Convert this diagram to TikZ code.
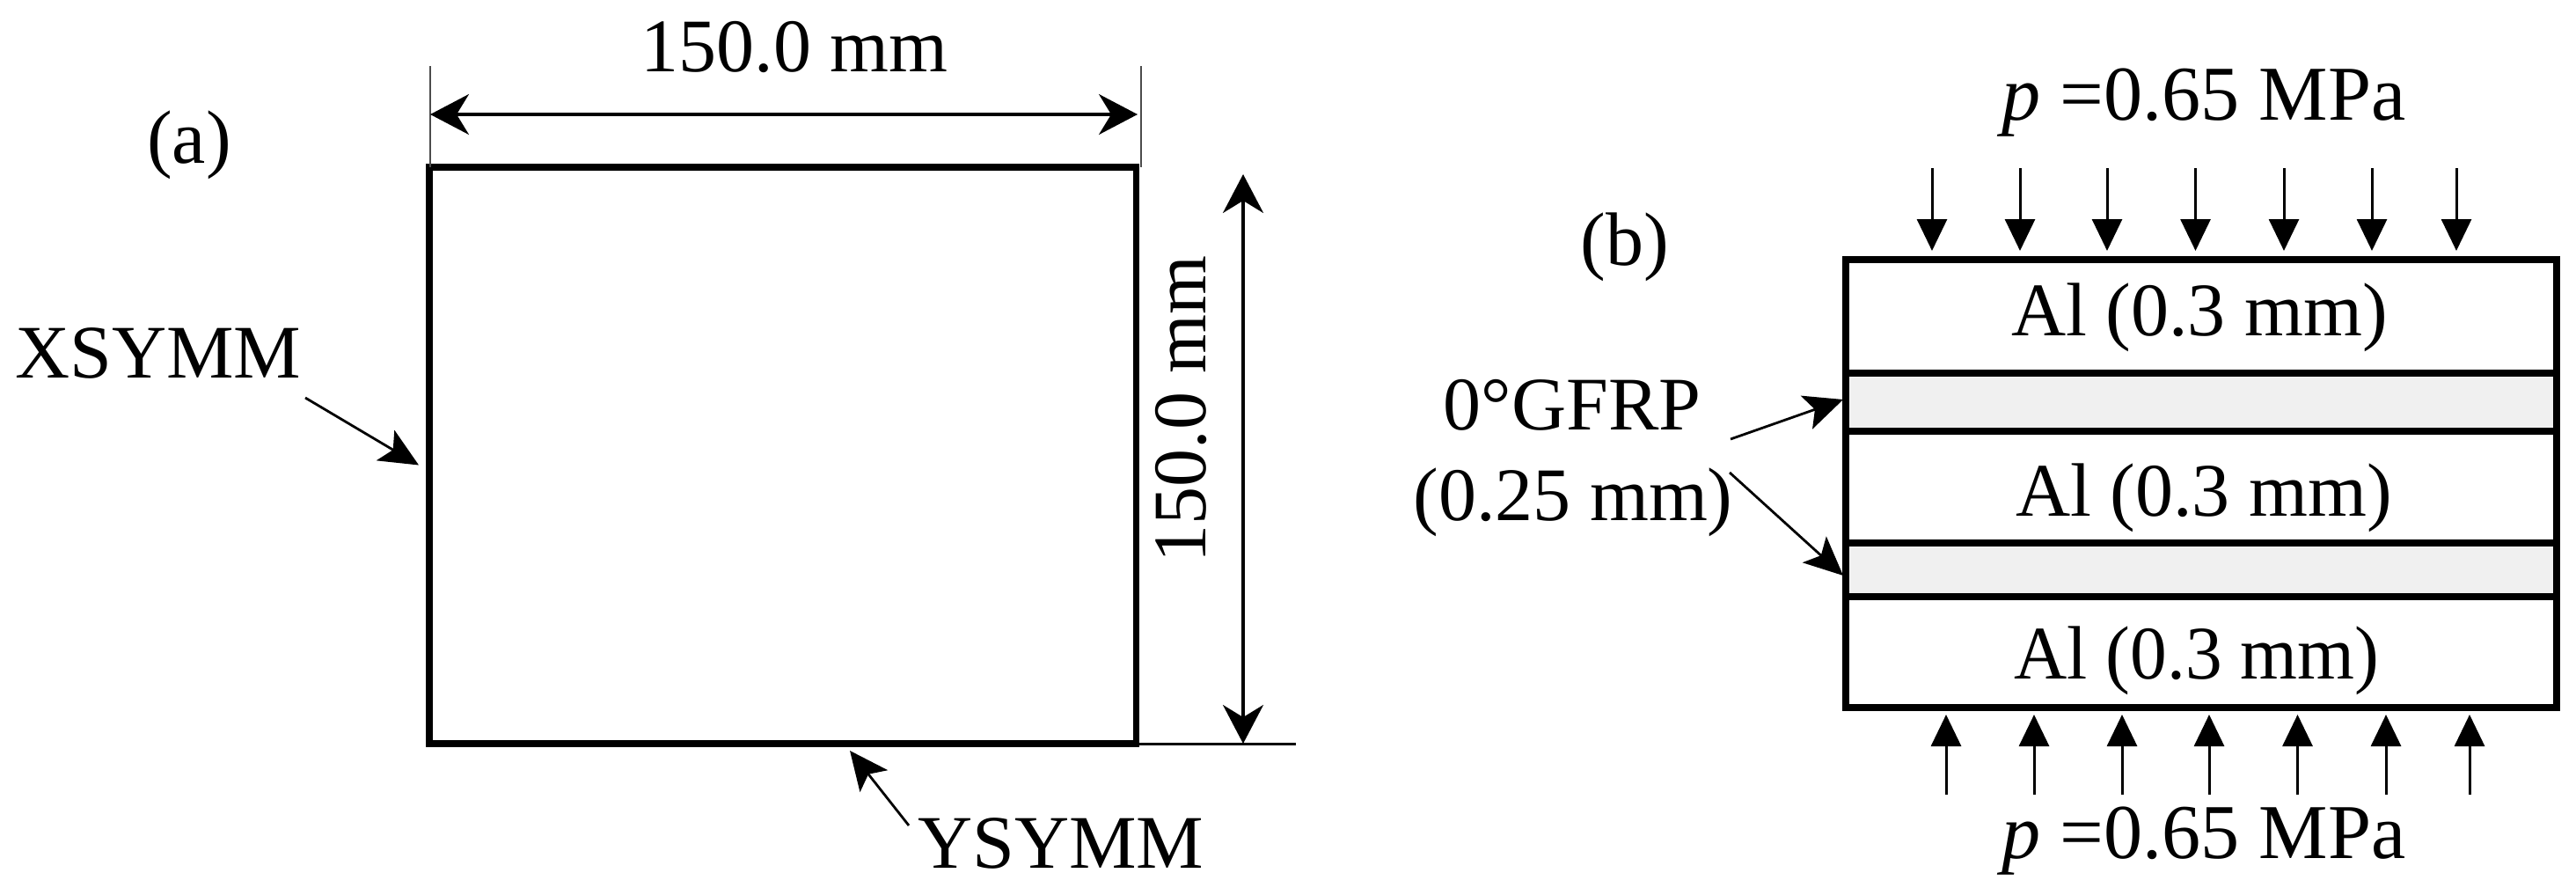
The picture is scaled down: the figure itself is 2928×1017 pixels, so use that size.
\documentclass[tikz,border=0pt]{standalone}
\usepackage{fontspec}
\setmainfont{Liberation Serif}
\usetikzlibrary{arrows.meta}
\tikzset{
  txt/.style={anchor=base,inner sep=0pt,outer sep=0pt,font=\fontsize{43}{50}\selectfont},
  bigtxt/.style={txt,font=\fontsize{44.1}{50}\selectfont},
  panel/.style={draw=black,line width=3.7pt,fill=white,minimum width=401.75pt,minimum height=327.5pt,inner sep=0pt,outer sep=0pt,anchor=north west},
  alayer/.style={draw=black,line width=4pt,fill=white,inner sep=0pt,outer sep=0pt,minimum width=404.25pt,anchor=north west},
  glayer/.style={draw=black,line width=4pt,fill=gfrp,inner sep=0pt,outer sep=0pt,minimum width=404.25pt,anchor=north west},
  thin rule/.style={draw=black!70,line width=1.1pt},
  dimarrow/.style={draw=black,line width=1.6pt,{Stealth[length=22pt,width=23pt,inset=7pt]}-{Stealth[length=22pt,width=23pt,inset=7pt]}},
  callout/.style={draw=black,line width=1.4pt,-{Stealth[length=22pt,width=20pt,inset=5pt]}},
  load/.style={draw=black,line width=1.5pt,-{Triangle[length=18pt,width=17pt]}}
}
\definecolor{gfrp}{HTML}{F0F0F0}
\begin{document}
\begin{tikzpicture}[x=0.5pt,y=-0.5pt]
\useasboundingbox (0,0) rectangle (2928,1017);
\fill[white] (0,0) rectangle (2928,1017);
% (a)
\node[panel] (plate) at (488,190) {};
\node[txt] (la) at (215,185) {(a)};
\node[txt] (wlab) at (903,81) {150.0 mm};
\node[txt,rotate=90] (hlab) at (1370,465) {150.0 mm};
\node[txt] (xs) at (180,429) {XSYMM};
\node[txt] (ys) at (1206,986) {YSYMM};
\coordinate (e1a) at (489,75); \coordinate (e1b) at (489,190);
\coordinate (e2a) at (1297,75); \coordinate (e2b) at (1297,190);
\coordinate (e3a) at (1291,845); \coordinate (e3b) at (1473,845);
\draw[thin rule] (e1a) -- (e1b);
\draw[thin rule] (e2a) -- (e2b);
\draw[draw=black,line width=1.5pt] (e3a) -- (e3b);
\coordinate (dwa) at (489,130); \coordinate (dwb) at (1293,130);
\coordinate (dha) at (1413,198); \coordinate (dhb) at (1413,845);
\draw[dimarrow] (dwa) -- (dwb);
\draw[dimarrow] (dha) -- (dhb);
\coordinate (xa) at (347,452); \coordinate (xb) at (476,528.5);
\coordinate (ya) at (1033,938); \coordinate (yb) at (966,853);
\draw[callout] (xa) -- (xb);
\draw[callout] (ya) -- (yb);
% (b)
\node[alayer,minimum height=64.25pt] (al1) at (2097.5,295) {};
\node[glayer,minimum height=33pt] (g1) at (2097.5,423.5) {};
\node[alayer,minimum height=63.75pt] (al2) at (2097.5,489.5) {};
\node[glayer,minimum height=30.5pt] (g2) at (2097.5,617) {};
\node[alayer,minimum height=63pt] (al3) at (2097.5,678) {};
\node[txt] (t1) at (2500,381) {Al (0.3 mm)};
\node[txt] (t2) at (2505,586) {Al (0.3 mm)};
\node[txt,xscale=0.97] (t3) at (2497,771) {Al (0.3 mm)};
\node[txt] (lb) at (1847,301.5) {(b)};
\node[bigtxt] (ptop) at (2505,136) {\textit{p} =0.65 MPa};
\node[bigtxt] (pbot) at (2505,975) {\textit{p} =0.65 MPa};
\node[txt] (gf1) at (1787,488) {0°GFRP};
\node[txt] (gf2) at (1788,591) {(0.25 mm)};
\coordinate (ga) at (1967,499); \coordinate (gb) at (2095,454);
\coordinate (gc) at (1966,537); \coordinate (gd) at (2095,654);
\draw[callout] (ga) -- (gb);
\draw[callout] (gc) -- (gd);
\foreach \i/\tx in {1/2196,2/2296,3/2395,4/2495.5,5/2596,6/2696,7/2792}{
  \coordinate (ta\i) at (\tx,191); \coordinate (tb\i) at (\tx,285);
  \draw[load] (ta\i) -- (tb\i);
}
\foreach \i/\bx in {1/2212,2/2312,3/2412,4/2511,5/2611.5,6/2712,7/2807}{
  \coordinate (ba\i) at (\bx,903); \coordinate (bb\i) at (\bx,812);
  \draw[load] (ba\i) -- (bb\i);
}
\end{tikzpicture}
\end{document}
